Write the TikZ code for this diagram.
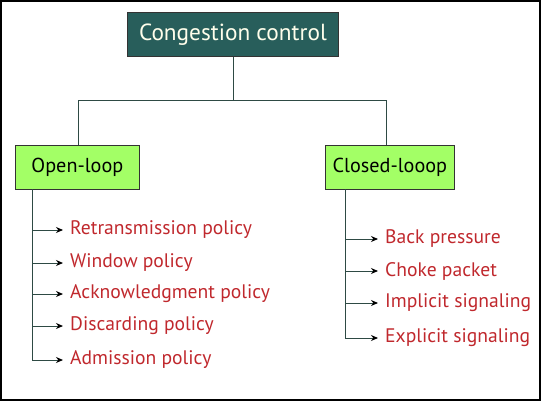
\documentclass[tikz,border=0pt]{standalone}
\usepackage{fontspec}
\setmainfont{PT Sans}
\usetikzlibrary{arrows.meta}
\definecolor{teal1}{HTML}{285E5B}
\definecolor{lime1}{HTML}{A3FF66}
\definecolor{red1}{HTML}{C0282D}
\definecolor{line1}{HTML}{2E4A44}
\begin{document}
\begin{tikzpicture}[x=1pt,y=-1pt,
  box/.style={draw=black!80,line width=0.8pt,inner sep=0pt,anchor=north west},
  item/.style={anchor=west,inner xsep=7pt,inner ysep=0pt,text=red1,font=\fontsize{19.6}{21}\selectfont},
  conn/.style={draw=line1,line width=1pt},
  arr/.style={conn,-{Stealth[length=7pt,width=6pt,color=black]}}]
\useasboundingbox (0,0) rectangle (542,402);
\draw[black,line width=1.2pt] (1,1) rectangle (540,400);
\node[box,fill=teal1,text=white!92!yellow,minimum width=211pt,minimum height=44pt,font=\fontsize{23.3}{25}\selectfont] (t) at (127,12) {Congestion control};
\node[box,fill=lime1,minimum width=124pt,minimum height=44pt,font=\fontsize{20.2}{22}\selectfont] (o) at (15,145) {Open-loop};
\node[box,fill=lime1,minimum width=129pt,minimum height=44pt,font=\fontsize{20.2}{22}\selectfont] (c) at (325,145) {Closed-looop};
\coordinate (bus) at (233,100);
\draw[conn] (t.south -| bus) -- (bus);
\draw[conn] (o.north -| 78,0) -- (78,100) -- (386,100) -- (c.north -| 386,0);
% open loop items
\node[item] (a1) at (63,230) {Retransmission policy};
\node[item] (a2) at (63,263) {Window policy};
\node[item] (a3) at (63,294) {Acknowledgment policy};
\node[item] (a4) at (63,326) {Discarding policy};
\node[item] (a5) at (63,360) {Admission policy};
\coordinate (os) at (32,189);
\draw[conn] (os) -- (os |- a5.west);
\foreach \i in {1,...,5} \draw[arr] (os |- a\i.west) -- (a\i.west);
% closed loop items
\node[item] (b1) at (378,239) {Back pressure};
\node[item] (b2) at (378,271) {Choke packet};
\node[item] (b3) at (378,303) {Implicit signaling};
\node[item] (b4) at (378,338) {Explicit signaling};
\coordinate (cs) at (345,189);
\draw[conn] (cs) -- (cs |- b4.west);
\foreach \i in {1,...,4} \draw[arr] (cs |- b\i.west) -- (b\i.west);
\end{tikzpicture}
\end{document}
